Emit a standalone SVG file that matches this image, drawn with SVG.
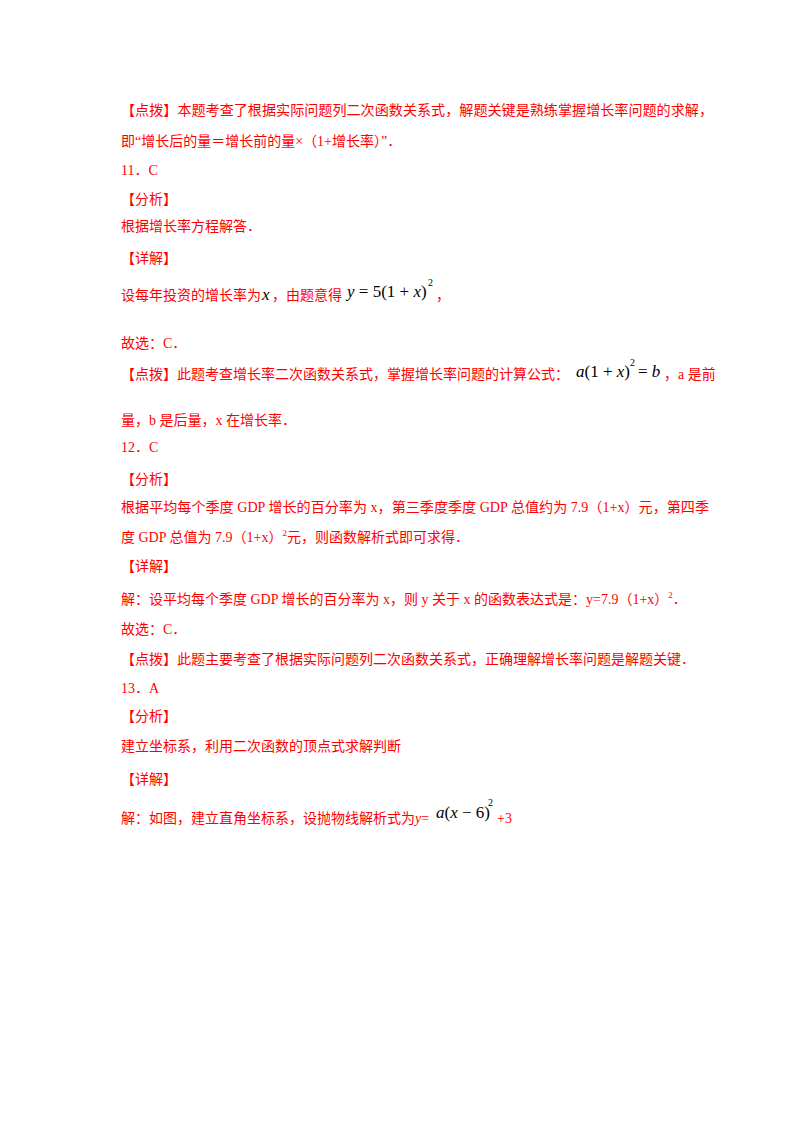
<svg xmlns="http://www.w3.org/2000/svg" width="800" height="1132" viewBox="0 0 800 1132">
<style>
text{font-family:"Liberation Serif","Noto Sans CJK SC",serif;font-size:14px;fill:#ff0000}
.m{fill:#000;font-style:italic;font-size:17px}
.n{fill:#000;font-size:17px}
.s{fill:#000;font-size:10px}
</style>
<rect width="800" height="1132" fill="#fff"/>
<text x="121" y="115" textLength="592" lengthAdjust="spacingAndGlyphs">【点拨】本题考查了根据实际问题列二次函数关系式，解题关键是熟练掌握增长率问题的求解，</text>
<text x="121" y="146">即“增长后的量＝增长前的量×（1+增长率）”．</text>
<text x="121" y="175">11．C</text>
<text x="121" y="204">【分析】</text>
<text x="121" y="231">根据增长率方程解答．</text>
<text x="121" y="263">【详解】</text>
<text x="121" y="300">设每年投资的增长率为</text>
<text x="262" y="300" class="m">x</text>
<text x="272" y="300">，由题意得</text>
<text x="347" y="297" class="n"><tspan class="m">y</tspan> = 5(1 + <tspan class="m">x</tspan>)</text>
<text x="428" y="286" class="s">2</text>
<text x="436" y="300">，</text>
<text x="121" y="348">故选：C．</text>
<text x="121" y="379">【点拨】此题考查增长率二次函数关系式，掌握增长率问题的计算公式：</text>
<text x="576" y="377" class="n"><tspan class="m">a</tspan>(1 + <tspan class="m">x</tspan>)</text>
<text x="630" y="366" class="s">2</text>
<text x="638" y="377" class="n">= <tspan class="m">b</tspan></text>
<text x="664" y="379">，a 是前</text>
<text x="121" y="425">量，b 是后量，x 在增长率．</text>
<text x="121" y="452">12．C</text>
<text x="121" y="484">【分析】</text>
<text x="121" y="512" textLength="588" lengthAdjust="spacingAndGlyphs">根据平均每个季度 GDP 增长的百分率为 x，第三季度季度 GDP 总值约为 7.9（1+x）元，第四季</text>
<text x="121" y="542">度 GDP 总值为 7.9（1+x）<tspan font-size="9" dy="-6">2</tspan><tspan dy="6">元，则函数解析式即可求得．</tspan></text>
<text x="121" y="571">【详解】</text>
<text x="121" y="604">解：设平均每个季度 GDP 增长的百分率为 x，则 y 关于 x 的函数表达式是：y=7.9（1+x）<tspan font-size="9" dy="-6">2</tspan><tspan dy="6">．</tspan></text>
<text x="121" y="634">故选：C．</text>
<text x="121" y="664">【点拨】此题主要考查了根据实际问题列二次函数关系式，正确理解增长率问题是解题关键．</text>
<text x="121" y="693">13．A</text>
<text x="121" y="721">【分析】</text>
<text x="121" y="751">建立坐标系，利用二次函数的顶点式求解判断</text>
<text x="121" y="784">【详解】</text>
<text x="121" y="823">解：如图，建立直角坐标系，设抛物线解析式为<tspan font-style="italic">y</tspan>=</text>
<text x="436" y="818" class="n"><tspan class="m">a</tspan>(<tspan class="m">x</tspan> − 6)</text>
<text x="488" y="806" class="s">2</text>
<text x="497" y="823">+3</text>
</svg>
